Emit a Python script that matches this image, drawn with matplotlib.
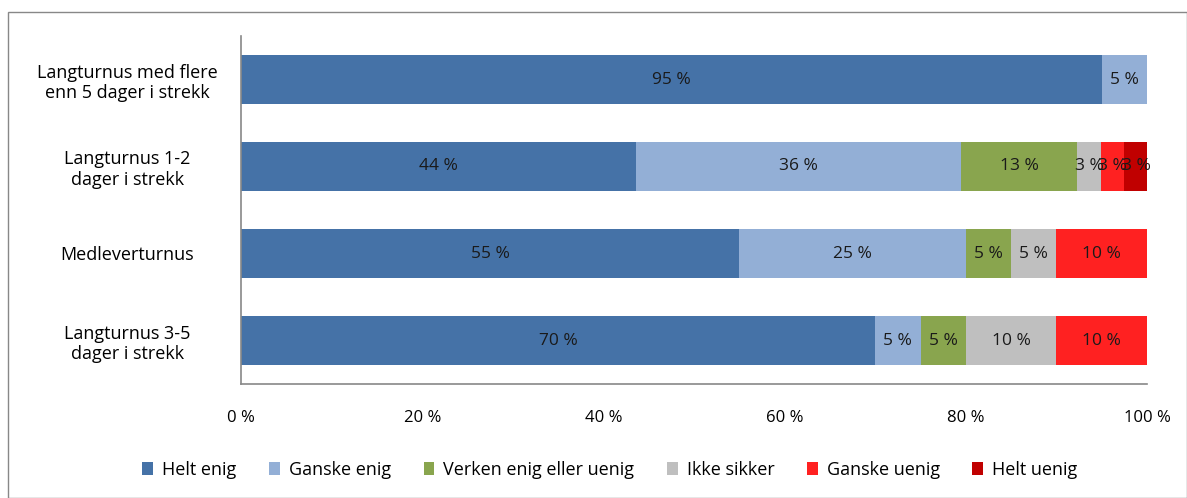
import matplotlib
matplotlib.use("Agg")
import matplotlib.pyplot as plt
from matplotlib.patches import Rectangle, Patch
import numpy as np

plt.rcParams['font.family'] = ['Open Sans', 'DejaVu Sans']

categories = ["Langturnus med flere\nenn 5 dager i strekk",
              "Langturnus 1-2\ndager i strekk",
              "Medleverturnus",
              "Langturnus 3-5\ndager i strekk"]
series = ["Helt enig", "Ganske enig", "Verken enig eller uenig",
          "Ikke sikker", "Ganske uenig", "Helt uenig"]
helt_enig = [95, 43.6, 55, 70]
ganske_enig = [5, 35.9, 25, 5]
verken = [0, 12.8, 5, 5]
ikke_sikker = [0, 2.6, 5, 10]
ganske_uenig = [0, 2.6, 10, 10]
helt_uenig = [0, 2.6, 0, 0]
colors = ["#4572A7", "#93AFD6", "#89A54E", "#BFBFBF", "#FF2121", "#C00000"]
xticks = [0, 20, 40, 60, 80, 100]
xticklabels = ["0 %", "20 %", "40 %", "60 %", "80 %", "100 %"]

data = [helt_enig, ganske_enig, verken, ikke_sikker, ganske_uenig, helt_uenig]

fig = plt.figure(figsize=(11.87, 4.98), dpi=100)
fig.patches.append(Rectangle((8/1187, 0), 1 - 8/1187, 1 - 12/498, transform=fig.transFigure,
                             fill=False, edgecolor="#888888", linewidth=1.0))
ax = fig.add_axes([241/1187, 1 - 384/498, 906/1187, 348/498])

y = np.arange(len(categories))
left = np.zeros(len(categories))
for vals, name, c in zip(data, series, colors):
    vals = np.array(vals, dtype=float)
    ax.barh(y, vals, left=left, height=0.56, color=c, label=name)
    for yi, (l, v) in enumerate(zip(left, vals)):
        if v > 0:
            ax.text(l + v / 2, yi, f"{round(v):.0f} %", ha="center", va="center",
                    fontsize=12.5, color="#1a1a1a")
    left += vals

ax.set_xlim(0, 100)
ax.set_ylim(3.5, -0.5)
ax.set_yticks(y)
ax.set_yticklabels(categories, fontsize=13, ha="center", linespacing=1.15)
ax.tick_params(axis="y", length=0, pad=82)
ax.set_xticks(xticks)
ax.set_xticklabels(xticklabels, fontsize=12)
ax.tick_params(axis="x", length=0, pad=19)
for s in ["top", "right"]:
    ax.spines[s].set_visible(False)
for s in ["left", "bottom"]:
    ax.spines[s].set_color("#888888")
    ax.spines[s].set_linewidth(1.2)

handles = [Patch(facecolor=c, edgecolor="none") for c in colors]
fig.legend(handles, series, loc="center", bbox_to_anchor=(610/1187, 1 - 470/498),
           ncol=6, frameon=False, fontsize=13, handlelength=0.6, handleheight=0.7,
           handletextpad=0.5, columnspacing=1.8)

fig.savefig("out.png", dpi=100)
